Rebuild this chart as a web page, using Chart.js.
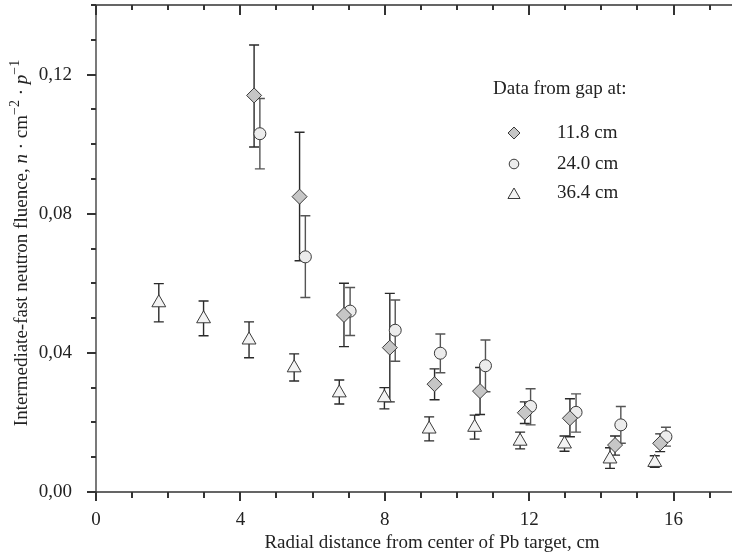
<!DOCTYPE html>
<html>
<head>
<meta charset="utf-8">
<script src="https://cdn.jsdelivr.net/npm/chart.js@4.4.1/dist/chart.umd.min.js"></script>
<style>
  html, body { margin: 0; padding: 0; background: #fff; }
  #wrap { width: 732px; height: 557px; }
</style>
</head>
<body>
<div id="wrap"><canvas id="grafico" width="732" height="557"></canvas></div>
<script>
// gap at 11.8 cm (diamonds)
var gap118X  = [4.38, 5.64, 6.87, 8.14, 9.38, 10.64, 11.88, 13.13, 14.38, 15.63];
var gap118Y  = [0.1140, 0.0849, 0.0509, 0.0415, 0.0310, 0.0290, 0.0228, 0.0212, 0.0135, 0.0140];
var gap118Lo = [0.0992, 0.0665, 0.0418, 0.0259, 0.0265, 0.0223, 0.0197, 0.0159, 0.0106, 0.0116];
var gap118Hi = [0.1285, 0.1034, 0.0600, 0.0571, 0.0354, 0.0358, 0.0259, 0.0268, 0.0161, 0.0167];

// gap at 24.0 cm (circles)
var gap240X  = [4.54, 5.80, 7.04, 8.29, 9.54, 10.79, 12.04, 13.30, 14.54, 15.79];
var gap240Y  = [0.1030, 0.0676, 0.0520, 0.0465, 0.0399, 0.0363, 0.0246, 0.0229, 0.0193, 0.0159];
var gap240Lo = [0.0929, 0.0559, 0.0450, 0.0376, 0.0343, 0.0288, 0.0193, 0.0172, 0.0140, 0.0132];
var gap240Hi = [0.1131, 0.0794, 0.0588, 0.0552, 0.0454, 0.0437, 0.0297, 0.0282, 0.0246, 0.0186];

// gap at 36.4 cm (triangles)
var gap364X  = [1.74, 2.98, 4.24, 5.49, 6.74, 7.99, 9.23, 10.49, 11.75, 12.98, 14.24, 15.48];
var gap364Y  = [0.0544, 0.0498, 0.0437, 0.0357, 0.0285, 0.0271, 0.0181, 0.0186, 0.0146, 0.0138, 0.0095, 0.0085];
var gap364Lo = [0.0489, 0.0449, 0.0386, 0.0319, 0.0253, 0.0239, 0.0147, 0.0152, 0.0124, 0.0117, 0.0068, 0.0071];
var gap364Hi = [0.0599, 0.0549, 0.0489, 0.0397, 0.0322, 0.0300, 0.0216, 0.0221, 0.0172, 0.0161, 0.0127, 0.0104];

var ticksX = [0, 4, 8, 12, 16];
var ticksY = [0, 0.04, 0.08, 0.12];

var legendaTitulo = 'Data from gap at:';
var legendaRotulos = ['11.8 cm', '24.0 cm', '36.4 cm'];

var FONTE = '"Liberation Serif", "DejaVu Serif", serif';
var COR_EIXO = '#333';

function pontos(xs, ys) {
  return xs.map(function (x, i) { return { x: x, y: ys[i] }; });
}

var barras = [
  { lo: gap118Lo, hi: gap118Hi, cor: '#2a2a2a' },
  { lo: gap240Lo, hi: gap240Hi, cor: '#555' },
  { lo: gap364Lo, hi: gap364Hi, cor: '#2a2a2a' }
];

// error bars, drawn under the markers
var barrasErro = {
  id: 'barrasErro',
  beforeDatasetsDraw: function (chart) {
    var ctx = chart.ctx, xs = chart.scales.x, ys = chart.scales.y;
    ctx.save();
    ctx.lineWidth = 1.4;
    chart.data.datasets.forEach(function (ds, d) {
      var b = barras[d];
      ctx.strokeStyle = b.cor;
      ds.data.forEach(function (p, i) {
        var px = xs.getPixelForValue(p.x);
        var yl = ys.getPixelForValue(b.lo[i]);
        var yh = ys.getPixelForValue(b.hi[i]);
        ctx.beginPath();
        ctx.moveTo(px, yl); ctx.lineTo(px, yh);
        ctx.moveTo(px - 5, yl); ctx.lineTo(px + 5, yl);
        ctx.moveTo(px - 5, yh); ctx.lineTo(px + 5, yh);
        ctx.stroke();
      });
    });
    ctx.restore();
  }
};

// frame, ticks, tick labels, axis titles and legend
var moldura = {
  id: 'moldura',
  afterDraw: function (chart) {
    var ctx = chart.ctx, a = chart.chartArea, xs = chart.scales.x, ys = chart.scales.y;
    ctx.save();
    ctx.strokeStyle = COR_EIXO;
    ctx.lineWidth = 1.3;
    ctx.beginPath();
    ctx.moveTo(chart.width, a.top); ctx.lineTo(a.left, a.top);
    ctx.lineTo(a.left, a.bottom); ctx.lineTo(chart.width, a.bottom);
    ctx.stroke();

    ctx.lineWidth = 2;
    ctx.beginPath();
    for (var v = 0; v <= 17; v++) {
      var px = Math.round(xs.getPixelForValue(v));
      var maior = v % 4 === 0;
      ctx.moveTo(px, a.bottom); ctx.lineTo(px, a.bottom + (maior ? 9 : 6));
      ctx.moveTo(px, a.top); ctx.lineTo(px, a.top + (maior ? 10 : 5));
    }
    for (var k = 0; k <= 14; k++) {
      var py = Math.round(ys.getPixelForValue(k / 100));
      ctx.moveTo(a.left, py); ctx.lineTo(a.left - (k % 4 === 0 ? 9 : 5), py);
    }
    ctx.stroke();

    ctx.fillStyle = '#222';
    ctx.textBaseline = 'middle';
    ctx.font = '19px ' + FONTE;

    // tick labels
    ctx.textAlign = 'center';
    ticksX.forEach(function (t) { ctx.fillText(String(t), xs.getPixelForValue(t), a.bottom + 28); });
    ctx.textAlign = 'right';
    ticksY.forEach(function (t) { ctx.fillText(t.toFixed(2).replace('.', ','), 72, ys.getPixelForValue(t)); });

    // x title
    ctx.textAlign = 'center';
    ctx.fillText('Radial distance from center of Pb target, cm', 432, 543);

    // y title with italics and superscripts
    var partes = [
      { t: 'Intermediate-fast neutron fluence, ', f: '19px ' + FONTE, dy: 0 },
      { t: 'n', f: 'italic 19px ' + FONTE, dy: 0 },
      { t: ' \u00b7 cm', f: '19px ' + FONTE, dy: 0 },
      { t: '\u22122', f: '14px ' + FONTE, dy: -7 },
      { t: ' \u00b7 ', f: '19px ' + FONTE, dy: 0 },
      { t: 'p', f: 'italic 19px ' + FONTE, dy: 0 },
      { t: '\u22121', f: '14px ' + FONTE, dy: -7 }
    ];
    var total = 0;
    partes.forEach(function (p) { ctx.font = p.f; p.w = ctx.measureText(p.t).width; total += p.w; });
    ctx.save();
    ctx.translate(22, 243);
    ctx.rotate(-Math.PI / 2);
    ctx.textAlign = 'left';
    var cx = -total / 2;
    partes.forEach(function (p) { ctx.font = p.f; ctx.fillText(p.t, cx, p.dy); cx += p.w; });
    ctx.restore();

    // legend
    ctx.textAlign = 'left';
    ctx.font = '19px ' + FONTE;
    ctx.fillText(legendaTitulo, 493, 89);
    var estilos = chart.data.datasets;
    var linhas = [133, 164, 193];
    var raios = [6, 4.8, 7];
    legendaRotulos.forEach(function (r, i) {
      var ds = estilos[i];
      ctx.fillStyle = ds.backgroundColor;
      ctx.strokeStyle = ds.borderColor;
      ctx.lineWidth = 1;
      Chart.helpers.drawPoint(ctx, { pointStyle: ds.pointStyle, radius: raios[i], borderWidth: 1, rotation: 0 }, 514, linhas[i] + (i === 2 ? 2 : 0));
      ctx.fillStyle = '#222';
      ctx.fillText(r, 557, linhas[i]);
    });
    ctx.restore();
  }
};

new Chart(document.getElementById('grafico').getContext('2d'), {
  type: 'scatter',
  data: {
    datasets: [
      { label: legendaRotulos[0], data: pontos(gap118X, gap118Y), pointStyle: 'rectRot', pointRadius: 7.5,
        backgroundColor: '#c6c6c6', borderColor: '#3a3a3a', borderWidth: 1, clip: false },
      { label: legendaRotulos[1], data: pontos(gap240X, gap240Y), pointStyle: 'circle', pointRadius: 6,
        backgroundColor: '#ececec', borderColor: '#3a3a3a', borderWidth: 1, clip: false },
      { label: legendaRotulos[2], data: pontos(gap364X, gap364Y), pointStyle: 'triangle', pointRadius: 8,
        backgroundColor: '#f3f3f3', borderColor: '#3a3a3a', borderWidth: 1, clip: false }
    ]
  },
  options: {
    responsive: false,
    animation: false,
    devicePixelRatio: 1,
    layout: { autoPadding: false, padding: { top: 5, right: 0, left: 0, bottom: 0 } },
    plugins: { legend: { display: false }, tooltip: { enabled: false } },
    scales: {
      x: {
        type: 'linear', min: 0, max: 17.62,
        grid: { display: false, drawTicks: false },
        border: { display: false },
        ticks: { display: false, stepSize: 1 },
        afterFit: function (s) { s.height = 65; }
      },
      y: {
        min: 0, max: 0.14,
        grid: { display: false, drawTicks: false },
        border: { display: false },
        ticks: { display: false, stepSize: 0.01 },
        afterFit: function (s) { s.width = 96; }
      }
    }
  },
  plugins: [barrasErro, moldura]
});
</script>
</body>
</html>
